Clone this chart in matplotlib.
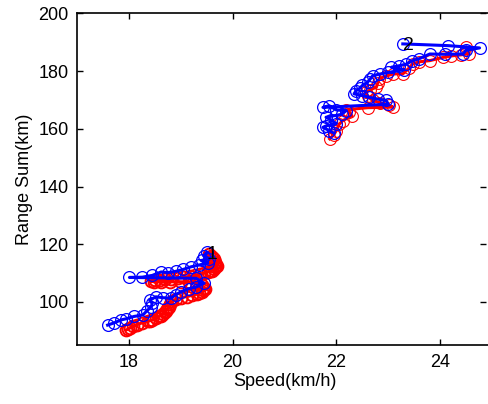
import numpy as np
import matplotlib
matplotlib.use('Agg')
import matplotlib.pyplot as plt

plt.rcParams['font.family'] = ['Liberation Sans', 'DejaVu Sans']

# ---- track 1 (true = red, estimate = blue) ----
red1_x = [19.55, 19.58, 19.60, 19.62, 19.64, 19.66, 19.65, 19.68, 19.70, 19.66, 19.64, 19.60,
          19.56, 19.52, 19.45, 19.38, 19.28, 19.18, 19.05, 18.95, 18.82, 18.70, 18.60, 18.50,
          18.42, 18.48, 18.62, 18.80, 19.00, 19.15, 19.30, 19.40, 19.45, 19.46, 19.42, 19.40,
          19.36, 19.32, 19.22, 19.12, 19.00, 18.90, 18.84, 18.80, 18.78, 18.76, 18.74, 18.72,
          18.70, 18.66, 18.62, 18.58, 18.52, 18.45, 18.40, 18.36, 18.26, 18.16, 18.08, 18.02,
          17.98, 17.95]
red1_y = [116.5, 116.0, 115.6, 115.2, 114.8, 114.0, 113.2, 112.8, 112.4, 112.0, 111.6, 110.9,
          110.6, 110.4, 110.0, 109.7, 109.3, 108.9, 108.6, 108.3, 108.0, 107.8, 107.6, 107.5,
          107.3, 107.0, 106.9, 107.0, 107.0, 106.9, 106.8, 106.0, 105.0, 104.5, 104.2, 103.4,
          103.0, 102.8, 102.3, 101.9, 101.5, 100.9, 100.2, 99.3, 98.4, 97.8, 97.5, 97.0,
          96.6, 95.8, 95.3, 95.0, 94.3, 93.8, 93.5, 93.3, 92.8, 92.2, 91.6, 91.0, 90.6, 90.3]
blue1_x = [19.50, 19.45, 19.55, 19.40, 19.52, 19.35, 19.20, 19.05, 18.90, 18.75, 18.62, 18.45,
           18.26, 18.01, 19.30, 19.45, 19.30, 19.15, 19.00, 18.90, 18.81, 18.65, 18.52, 18.40,
           18.45, 18.43, 18.35, 18.27, 18.10, 17.95, 17.85, 17.72, 17.59]
blue1_y = [117.2, 116.0, 115.0, 114.4, 113.5, 112.8, 112.2, 111.3, 110.6, 110.2, 110.4, 109.2,
           108.6, 108.5, 108.2, 106.5, 105.2, 104.6, 103.5, 102.5, 101.3, 101.5, 101.8, 100.6,
           99.5, 98.3, 97.0, 95.5, 95.0, 94.2, 93.8, 92.8, 92.0]

# ---- track 2 ----
red2_x = [24.50, 24.56, 24.40, 24.20, 24.05, 23.80, 23.60, 23.47, 23.40, 23.28, 23.09, 22.95,
          22.83, 22.80, 22.77, 22.65, 22.57, 22.60, 22.70, 22.85, 23.02, 23.09, 22.60, 22.19,
          22.25, 22.30, 22.12, 22.05, 22.00, 21.95, 21.87]
red2_y = [188.2, 186.0, 185.6, 185.2, 184.7, 183.6, 183.2, 182.5, 181.0, 179.0, 179.0, 178.2,
          177.4, 176.0, 174.4, 173.5, 172.6, 171.2, 169.8, 169.0, 168.1, 167.5, 167.3, 166.6,
          165.7, 164.5, 162.8, 161.5, 159.4, 158.0, 156.5]
blue2_x = [23.28, 24.15, 24.76, 24.50, 24.44, 24.10, 23.80, 23.60, 23.45, 23.35, 23.20, 23.06,
           23.30, 23.00, 22.85, 22.70, 22.65, 22.60, 22.50, 22.45, 22.38, 22.34, 22.50, 22.63,
           22.80, 22.96, 23.00, 21.74, 21.86, 22.00, 22.19, 22.10, 21.80, 21.90, 22.00, 21.80,
           21.74, 21.86, 21.95]
blue2_y = [189.4, 188.8, 188.0, 187.2, 185.9, 185.8, 185.9, 184.3, 183.5, 182.4, 181.8, 181.3,
           180.5, 179.5, 179.0, 178.4, 177.2, 176.1, 175.0, 174.0, 173.2, 172.1, 171.5, 170.9,
           170.3, 169.8, 168.5, 167.4, 168.0, 166.5, 166.3, 165.0, 164.0, 163.0, 161.8, 161.0,
           160.5, 159.4, 158.5]

track_labels = ['1', '2']
label_x = [19.60, 23.38]
label_y = [116.3, 189.0]

x_ticks = [18, 20, 22, 24]
y_ticks = [100, 120, 140, 160, 180, 200]

fig = plt.figure(figsize=(4.89, 4.04), dpi=100)
ax = fig.add_axes([0.1575, 0.1453, 0.8487, 0.8218])

style = dict(marker='o', mfc='none', ms=8.5, lw=2.2)
ax.plot(red1_x, red1_y, color='#ff0000', mew=1.4, **style)
ax.plot(red2_x, red2_y, color='#ff0000', mew=0.8, **style)
for xs, ys in [(blue1_x, blue1_y), (blue2_x, blue2_y)]:
    ax.plot(xs, ys, color='#0000ff', mew=0.9, **style)

for t, lx, ly in zip(track_labels, label_x, label_y):
    ax.text(lx, ly, t, fontsize=14, ha='center', va='center', color='black', zorder=5)

ax.set_xlim(17, 25)
ax.set_ylim(85, 200)
ax.set_xticks(x_ticks)
ax.set_yticks(y_ticks)
ax.tick_params(direction='in', length=4, width=1, labelsize=13,
               top=True, right=True, pad=6)
for s in ax.spines.values():
    s.set_linewidth(1.2)
# right spine sits just inside the frame, only its tick marks show
ax.spines['right'].set_position(('axes', 0.985))
ax.spines['right'].set_color('none')
ax.tick_params(axis='y', which='both', right=True, color='black')
ax.set_xlabel('Speed(km/h)', fontsize=13, labelpad=2)
ax.set_ylabel('Range Sum(km)', fontsize=13, labelpad=4)

fig.savefig('out.png', dpi=100)
